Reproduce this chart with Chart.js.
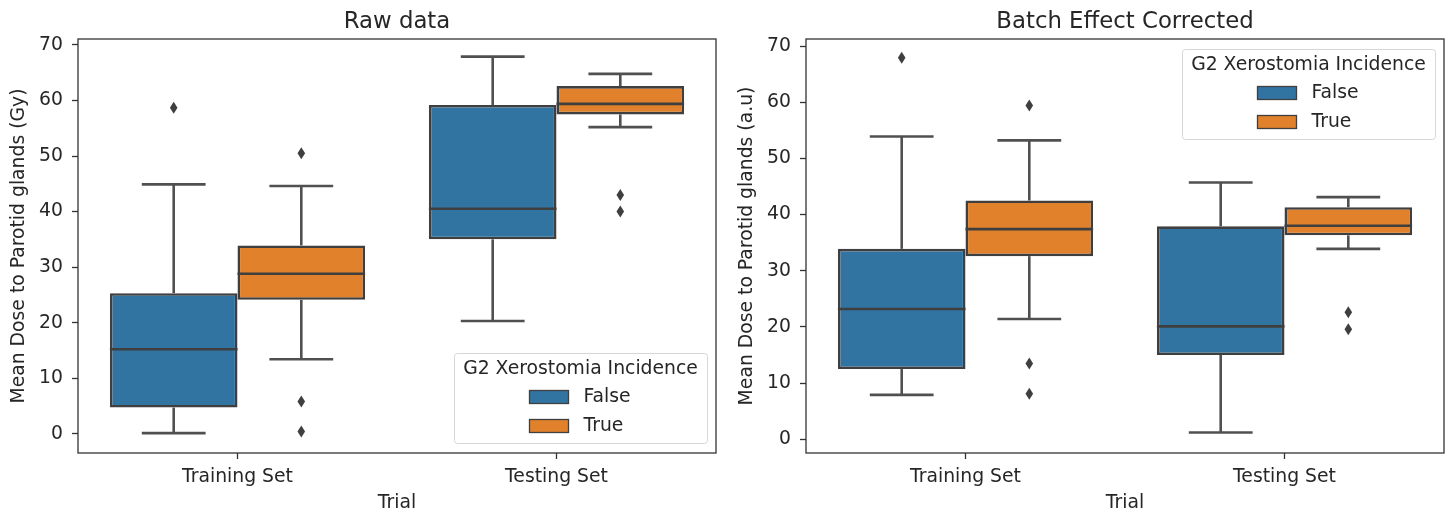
<!DOCTYPE html>
<html><head><meta charset="utf-8">
<script src="https://cdn.jsdelivr.net/npm/chart.js@4"></script>
<style>
html,body{margin:0;padding:0;background:#fff;}
#wrap{position:relative;width:1452px;height:513px;overflow:hidden;}
.c{position:absolute;top:0;width:726px;height:513px;}
</style></head><body>
<div id="wrap">
<div class="c" style="left:0"><canvas id="c1" width="726" height="513"></canvas></div>
<div class="c" style="left:726px"><canvas id="c2" width="726" height="513"></canvas></div>
</div>
<script>
// ---------- data ----------
const categories = ['Training Set', 'Testing Set'];
const groupLabels = ['False', 'True'];
const yTickValues = [0, 10, 20, 30, 40, 50, 60, 70];

// Raw data panel
const rawFalseQ1 = [4.7, 35.0];
const rawFalseQ3 = [25.3, 59.2];
const rawFalseMedian = [15.2, 40.5];
const rawFalseLow = [0.1, 20.3];
const rawFalseHigh = [44.9, 67.9];
const rawFalseOutliers = [[58.7], []];

const rawTrueQ1 = [24.1, 57.5];
const rawTrueQ3 = [33.9, 62.6];
const rawTrueMedian = [28.8, 59.4];
const rawTrueLow = [13.4, 55.2];
const rawTrueHigh = [44.6, 64.8];
const rawTrueOutliers = [[50.5, 5.8, 0.4], [43.0, 40.0]];

// Batch effect corrected panel
const corFalseQ1 = [12.5, 15.0];
const corFalseQ3 = [33.9, 37.9];
const corFalseMedian = [23.2, 20.1];
const corFalseLow = [7.9, 1.2];
const corFalseHigh = [53.9, 45.7];
const corFalseOutliers = [[67.9], []];

const corTrueQ1 = [32.6, 36.3];
const corTrueQ3 = [42.5, 41.3];
const corTrueMedian = [37.4, 38.0];
const corTrueLow = [21.4, 33.9];
const corTrueHigh = [53.2, 43.1];
const corTrueOutliers = [[59.4, 13.5, 8.1], [22.6, 19.6]];

// ---------- styling ----------
const BLUE = '#3274a1';
const ORANGE = '#e1812c';
const LINE = '#3f3f3f';
const WHISK = '#505050';
const TEXT = '#262626';
const AXIS = '#333333';
const FS = 18.8;
Chart.defaults.font.family = '"DejaVu Sans", sans-serif';
Chart.defaults.color = TEXT;

function boxDataset(label, q1, q3, med, lo, hi, out, color) {
  return {
    label: label,
    data: q1.map((v, i) => [v, q3[i]]),
    backgroundColor: color,
    borderColor: LINE,
    borderWidth: 2.6,
    borderSkipped: false,
    categoryPercentage: 0.8,
    barPercentage: 1.0,
    stats: { med: med, lo: lo, hi: hi, out: out }
  };
}

const boxPlugin = {
  id: 'boxExtras',
  afterDatasetsDraw(chart) {
    const ctx = chart.ctx, ys = chart.scales.y;
    const py = v => ys.getPixelForValue(v);
    ctx.save();
    const seg = (x1, y1, x2, y2) => { ctx.beginPath(); ctx.moveTo(x1, y1); ctx.lineTo(x2, y2); ctx.stroke(); };
    chart.data.datasets.forEach((ds, d) => {
      const meta = chart.getDatasetMeta(d);
      const s = ds.stats;
      meta.data.forEach((el, i) => {
        const x = el.x, w = el.width;
        const q1 = ds.data[i][0], q3 = ds.data[i][1];
        ctx.strokeStyle = WHISK;
        ctx.lineWidth = 2.6;
        // whiskers
        seg(x, py(q3), x, py(s.hi[i]));
        seg(x, py(q1), x, py(s.lo[i]));
        // caps
        seg(x - w / 4, py(s.hi[i]), x + w / 4, py(s.hi[i]));
        seg(x - w / 4, py(s.lo[i]), x + w / 4, py(s.lo[i]));
        // median
        ctx.strokeStyle = LINE;
        seg(x - w / 2, py(s.med[i]), x + w / 2, py(s.med[i]));
        // outliers
        ctx.fillStyle = LINE;
        s.out[i].forEach(v => {
          const yy = py(v);
          ctx.beginPath();
          ctx.moveTo(x, yy - 6);
          ctx.lineTo(x + 3.8, yy);
          ctx.lineTo(x, yy + 6);
          ctx.lineTo(x - 3.8, yy);
          ctx.closePath();
          ctx.fill();
        });
      });
    });
    ctx.restore();
  }
};

const framePlugin = {
  id: 'frame',
  afterDraw(chart) {
    const ca = chart.chartArea, ctx = chart.ctx;
    ctx.save();
    ctx.strokeStyle = AXIS;
    ctx.lineWidth = 1.3;
    ctx.strokeRect(ca.left, ca.top, ca.right - ca.left, ca.bottom - ca.top);
    ctx.restore();
  }
};

const legendPlugin = {
  id: 'innerLegend',
  afterDraw(chart, args, o) {
    const ca = chart.chartArea, ctx = chart.ctx;
    ctx.save();
    ctx.font = FS + 'px "DejaVu Sans"';
    const w = Math.round(ctx.measureText(o.title).width + 18);
    const h = 90;
    const x0 = Math.round(ca.right - 9 - w);
    const y0 = Math.round(o.loc === 'lower right' ? ca.bottom - 10 - h : ca.top + 10);
    ctx.beginPath();
    if (ctx.roundRect) ctx.roundRect(x0 + 0.5, y0 + 0.5, w, h, 3); else ctx.rect(x0 + 0.5, y0 + 0.5, w, h);
    ctx.fillStyle = 'rgba(255,255,255,0.8)';
    ctx.fill();
    ctx.strokeStyle = '#d6d6d6';
    ctx.lineWidth = 1;
    ctx.stroke();
    const cx = x0 + w / 2;
    ctx.fillStyle = TEXT;
    ctx.textAlign = 'center';
    ctx.textBaseline = 'middle';
    ctx.fillText(o.title, cx, y0 + 16);
    chart.data.datasets.forEach((ds, i) => {
      const yc = y0 + 44 + i * 29;
      ctx.fillStyle = ds.backgroundColor;
      ctx.fillRect(cx - 51, yc - 6.5, 39, 13);
      ctx.strokeStyle = LINE;
      ctx.lineWidth = 1.3;
      ctx.strokeRect(cx - 51, yc - 6.5, 39, 13);
      ctx.fillStyle = TEXT;
      ctx.textAlign = 'left';
      ctx.fillText(ds.label, cx + 3, yc);
    });
    ctx.restore();
  }
};

function makeChart(id, cfg) {
  return new Chart(document.getElementById(id), {
    type: 'bar',
    data: { labels: categories, datasets: cfg.datasets },
    options: {
      responsive: false,
      animation: false,
      events: [],
      layout: { padding: { left: 0, right: cfg.padRight, top: 0, bottom: 0 } },
      plugins: {
        legend: { display: false },
        tooltip: { enabled: false },
        title: {
          display: true, text: cfg.title, fullSize: false, color: TEXT,
          font: { size: 22.8, weight: 'normal', lineHeight: 1.2 },
          padding: { top: 8.4, bottom: 3.24 }
        },
        innerLegend: { loc: cfg.legendLoc, title: 'G2 Xerostomia Incidence' }
      },
      scales: {
        x: {
          grid: { display: true, drawOnChartArea: false, offset: false, tickLength: 6, tickColor: AXIS, tickWidth: 1.3 },
          border: { display: false },
          ticks: { color: TEXT, font: { size: FS }, padding: 6.7, maxRotation: 0 },
          title: { display: true, text: 'Trial', color: TEXT, font: { size: FS, lineHeight: 1 }, padding: { top: 0, bottom: 0 } },
          afterFit(s) { s.height = 60; }
        },
        y: {
          min: cfg.yMin, max: cfg.yMax,
          grid: { display: true, drawOnChartArea: false, tickLength: 6, tickColor: AXIS, tickWidth: 1.3 },
          border: { display: false },
          ticks: { color: TEXT, font: { size: FS }, padding: 9 },
          afterBuildTicks(s) { s.ticks = yTickValues.map(v => ({ value: v })); },
          title: { display: true, text: cfg.yTitle, color: TEXT, font: { size: FS, lineHeight: 1.2 }, padding: { top: cfg.yTitlePad, bottom: 0 } },
          afterFit(s) { s.width = cfg.yWidth; }
        }
      }
    },
    plugins: [boxPlugin, framePlugin, legendPlugin]
  });
}

makeChart('c1', {
  title: 'Raw data',
  yTitle: 'Mean Dose to Parotid glands (Gy)',
  yMin: -3.48, yMax: 71.08,
  yWidth: 78, yTitlePad: 8.2, padRight: 10,
  legendLoc: 'lower right',
  datasets: [
    boxDataset(groupLabels[0], rawFalseQ1, rawFalseQ3, rawFalseMedian, rawFalseLow, rawFalseHigh, rawFalseOutliers, BLUE),
    boxDataset(groupLabels[1], rawTrueQ1, rawTrueQ3, rawTrueMedian, rawTrueLow, rawTrueHigh, rawTrueOutliers, ORANGE)
  ]
});

makeChart('c2', {
  title: 'Batch Effect Corrected',
  yTitle: 'Mean Dose to Parotid glands (a.u)',
  yMin: -2.44, yMax: 71.25,
  yWidth: 80, yTitlePad: 9.4, padRight: 8,
  legendLoc: 'upper right',
  datasets: [
    boxDataset(groupLabels[0], corFalseQ1, corFalseQ3, corFalseMedian, corFalseLow, corFalseHigh, corFalseOutliers, BLUE),
    boxDataset(groupLabels[1], corTrueQ1, corTrueQ3, corTrueMedian, corTrueLow, corTrueHigh, corTrueOutliers, ORANGE)
  ]
});
</script>
</body></html>
